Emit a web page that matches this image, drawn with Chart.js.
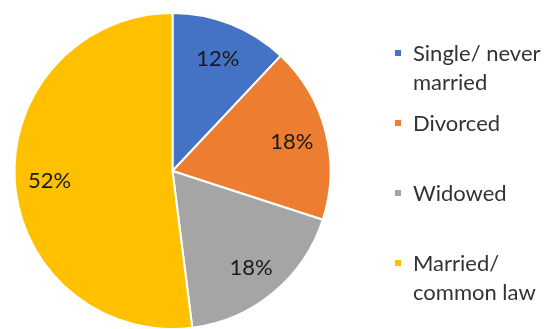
<!DOCTYPE html>
<html>
<head>
<meta charset="utf-8">
<script src="https://cdn.jsdelivr.net/npm/chart.js@4"></script>
<style>
  html, body { margin: 0; padding: 0; background: #fff; overflow: hidden; }
  #wrap { position: absolute; left: 0; top: 0; width: 544px; height: 340px; }
  .legend { position: absolute; left: 395px; font-family: Lato, "Open Sans", sans-serif; font-size: 22px; color: #333; line-height: 29px; white-space: nowrap; }
  .legend span.box { position: absolute; left: 0; top: 12px; width: 6px; height: 6px; }
  .legend div.txt { margin-left: 18px; }
</style>
</head>
<body>
<div id="wrap"><canvas id="pieChart" width="544" height="340"></canvas></div>
<div id="legend"></div>
<script>
const categories = ["Single/ never married", "Divorced", "Widowed", "Married/ common law"];
const legendLines = [["Single/ never", "married"], ["Divorced"], ["Widowed"], ["Married/", "common law"]];
const values = [12, 18, 18, 52];
const colors = ["#4472C4", "#ED7D31", "#A5A5A5", "#FFC000"];
const legendTops = [38, 108, 178, 248];

// легенда справа (HTML, бо підписи в два рядки)
const leg = document.getElementById("legend");
legendLines.forEach((lines, i) => {
    const d = document.createElement("div");
    d.className = "legend";
    d.style.top = legendTops[i] + "px";
    d.innerHTML = '<span class="box" style="background:' + colors[i] + '"></span><div class="txt">' + lines.join("<br>") + "</div>";
    leg.appendChild(d);
});

const pctLabels = {
    id: "pctLabels",
    afterDatasetsDraw(chart) {
        const ctx = chart.ctx;
        const meta = chart.getDatasetMeta(0);
        ctx.save();
        ctx.font = "22px Lato, 'Open Sans', sans-serif";
        ctx.fillStyle = "#1a1a1a";
        ctx.textAlign = "center";
        ctx.textBaseline = "middle";
        meta.data.forEach((arc, i) => {
            const p = arc.getProps(["x", "y", "startAngle", "endAngle", "outerRadius"], true);
            const a = (p.startAngle + p.endAngle) / 2;
            const r = p.outerRadius * 0.78;
            ctx.fillText(values[i] + "%", p.x + Math.cos(a) * r, p.y + Math.sin(a) * r + 2);
        });
        ctx.restore();
    }
};

new Chart(document.getElementById("pieChart").getContext("2d"), {
    type: "pie",
    data: {
        labels: categories,
        datasets: [{
            data: values,
            backgroundColor: colors,
            borderColor: "#fff",
            borderWidth: 2
        }]
    },
    options: {
        responsive: false,
        animation: false,
        layout: { padding: { left: 13, right: 212, top: 12, bottom: 10 } },
        plugins: { legend: { display: false }, tooltip: { enabled: false } }
    },
    plugins: [pctLabels]
});
</script>
</body>
</html>
